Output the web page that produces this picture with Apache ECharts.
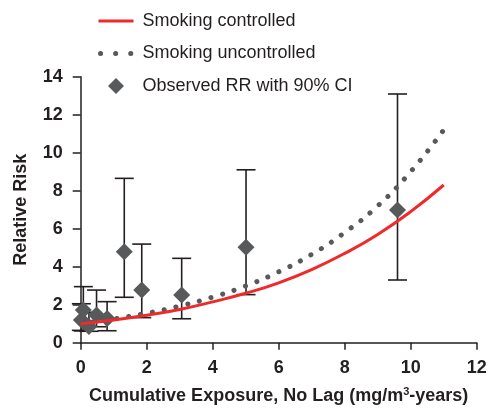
<!DOCTYPE html>
<html>
<head>
<meta charset="utf-8">
<script src="https://cdn.jsdelivr.net/npm/echarts@6/dist/echarts.min.js"></script>
<style>html,body{margin:0;padding:0;background:#fff}#c{width:489px;height:410px}</style>
</head>
<body>
<div id="c"></div>
<script>
// Exposure grid for fitted curves (mg/m3-years)
var curveX = [0, 1, 2, 3, 4, 5, 6, 7, 8, 9, 10, 11];
var controlledRR = [1.0, 1.2, 1.45, 1.75, 2.15, 2.6, 3.15, 3.85, 4.7, 5.7, 6.9, 8.3];
var uncontrolledRR = [1.0, 1.25, 1.55, 1.93, 2.4, 2.99, 3.73, 4.65, 5.8, 7.2, 9.0, 11.2];

// Observed relative risks with 90% CI
var obsX = [0.02, 0.08, 0.25, 0.48, 0.8, 1.32, 1.85, 3.06, 5.01, 9.6];
var obsRR = [1.19, 1.72, 0.85, 1.46, 1.28, 4.79, 2.77, 2.51, 5.02, 6.98];
var obsLow = [0.65, 0.62, 0.6, 0.84, 0.63, 2.39, 1.32, 1.26, 2.53, 3.3];
var obsHigh = [2.05, 2.95, 1.6, 2.77, 2.16, 8.65, 5.19, 4.44, 9.1, 13.09];

var xTicks = [0, 2, 4, 6, 8, 10, 12];
var yTicks = [0, 2, 4, 6, 8, 10, 12, 14];

var ink = '#231f20';
var grey = '#58595b';
var red = '#ee2a2a';
var chart = echarts.init(document.getElementById('c'), null, {renderer: 'canvas'});
var ff = "'Liberation Sans', Arial, Helvetica, sans-serif";
var fs = 18;

chart.setOption({
  animation: false,
  textStyle: {fontFamily: ff},
  legend: {
    orient: 'vertical', left: 91, top: 7,
    itemWidth: 35, itemHeight: 16, itemGap: 14.5,
    symbolKeepAspect: true,
    textStyle: {fontSize: fs, color: ink, fontFamily: ff, padding: [0, 0, 0, 4]},
    data: [
      {name: 'Smoking controlled', itemStyle: {opacity: 0}, lineStyle: {color: red, width: 3}},
      {name: 'Smoking uncontrolled', itemStyle: {opacity: 0}, lineStyle: {color: grey, width: 5, type: [0.1, 15], cap: 'round', dashOffset: -2}},
      {name: 'Observed RR with 90% CI', icon: 'path://M8,0L16,8L8,16L0,8Z', itemStyle: {color: grey}}
    ]
  },
  grid: {left: 80.7, right: 12.3, top: 76.7, bottom: 67.3, outerBoundsMode: 'none', containLabel: false},
  xAxis: {
    type: 'value', min: xTicks[0], max: xTicks[xTicks.length - 1], interval: 2,
    name: 'Cumulative Exposure, No Lag (mg/m{sup|3}-years)',
    nameLocation: 'middle', nameGap: 44,
    nameTextStyle: {fontSize: fs, fontWeight: 'bold', color: ink, fontFamily: ff,
      rich: {sup: {fontSize: 11, fontWeight: 'bold', color: ink, verticalAlign: 'top', padding: [0, 0, 7, 0], fontFamily: ff}}},
    axisLine: {lineStyle: {color: ink, width: 1.5}},
    axisTick: {length: 7, lineStyle: {color: ink, width: 1.5}},
    axisLabel: {fontSize: fs, fontWeight: 'bold', color: ink, margin: 16, fontFamily: ff},
    splitLine: {show: false}
  },
  yAxis: {
    type: 'value', min: yTicks[0], max: yTicks[yTicks.length - 1], interval: 2,
    name: 'Relative Risk', nameLocation: 'middle', nameGap: 51,
    nameTextStyle: {fontSize: fs, fontWeight: 'bold', color: ink, fontFamily: ff},
    axisLine: {show: true, lineStyle: {color: ink, width: 1.5}},
    axisTick: {show: true, length: 8, lineStyle: {color: ink, width: 1.5}},
    axisLabel: {fontSize: fs, fontWeight: 'bold', color: ink, margin: 18, fontFamily: ff},
    splitLine: {show: false}
  },
  series: [
    {
      name: 'CI bars', type: 'custom', z: 2,
      data: obsX.map(function (x, i) { return [x, obsLow[i], obsHigh[i]]; }),
      renderItem: function (params, api) {
        var lo = api.coord([api.value(0), api.value(1)]);
        var hi = api.coord([api.value(0), api.value(2)]);
        var hw = 9.5;
        var st = {stroke: ink, lineWidth: 1.6};
        return {type: 'group', children: [
          {type: 'line', shape: {x1: lo[0], y1: lo[1], x2: hi[0], y2: hi[1]}, style: st},
          {type: 'line', shape: {x1: lo[0] - hw, y1: lo[1], x2: lo[0] + hw, y2: lo[1]}, style: st},
          {type: 'line', shape: {x1: hi[0] - hw, y1: hi[1], x2: hi[0] + hw, y2: hi[1]}, style: st}
        ]};
      }
    },
    {
      name: 'Smoking uncontrolled', type: 'line', smooth: true, symbol: 'none', z: 3,
      data: curveX.map(function (x, i) { return [x, uncontrolledRR[i]]; }),
      itemStyle: {color: grey},
      lineStyle: {color: grey, width: 5, type: [0.1, 12], cap: 'round'}
    },
    {
      name: 'Observed RR with 90% CI', type: 'scatter', symbol: 'diamond', symbolSize: 17, z: 4,
      data: obsX.map(function (x, i) { return [x, obsRR[i]]; }),
      itemStyle: {color: grey, opacity: 1}
    },
    {
      name: 'Smoking controlled', type: 'line', smooth: true, symbol: 'none', z: 5,
      data: curveX.map(function (x, i) { return [x, controlledRR[i]]; }),
      itemStyle: {color: red},
      lineStyle: {color: red, width: 3}
    }
  ]
});
</script>
</body>
</html>
